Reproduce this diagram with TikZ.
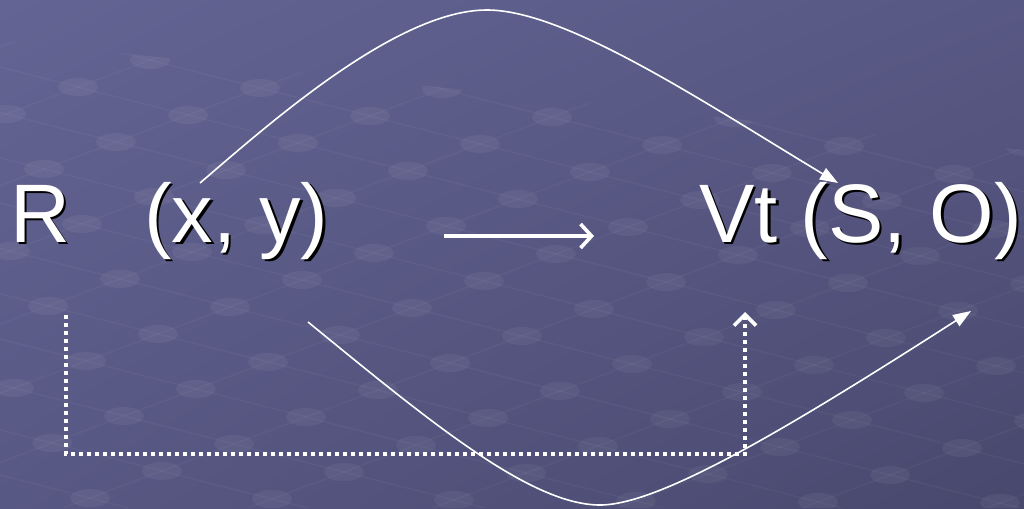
\documentclass[tikz,border=0pt]{standalone}
\usepackage{fontspec}
\setmainfont{Liberation Sans}
\usetikzlibrary{arrows.meta,shadings}
\definecolor{bgA}{RGB}{100,100,148}
\definecolor{bgM}{RGB}{88,88,132}
\definecolor{bgB}{RGB}{72,72,110}
\newcommand\shtext[1]{\makebox[0pt][l]{\hspace{2.6pt}\raisebox{-2.6pt}{\color{black}#1}}#1}
\tikzset{
  lbl/.style={font=\fontsize{83}{98}\selectfont, text=white, inner sep=0pt, anchor=base west},
  curve/.style={draw=white, line width=1.6pt, -{Triangle[length=18pt,width=13pt]}},
  dotline/.style={draw=white, line width=3.6pt, dash pattern=on 3.6pt off 4.4pt, -{Straight Barb[length=11pt,width=22pt,line width=3.6pt]}},
  mainarrow/.style={draw=white, line width=3.8pt, -{Straight Barb[length=11pt,width=24pt,line width=3.6pt]}},
  gridline/.style={draw=white, draw opacity=0.035, line width=1.5pt},
  griddot/.style={fill=white, fill opacity=0.05}
}
\begin{document}
\begin{tikzpicture}[x=1pt,y=-1pt]
\useasboundingbox (0,0) rectangle (1024,508);
\shade[upper left=bgA, upper right=bgM, lower left=bgM, lower right=bgB] (0,0) rectangle (1024,508);
% faint background texture
\begin{scope}
\clip (0,40) -- (1024,150) -- (1024,508) -- (0,508) -- cycle;
\foreach \j in {-9,...,7}{
  \draw[gridline] ({450-8*110-\j*72},{363-8*28+\j*27}) -- ({450+6*110-\j*72},{363+6*28+\j*27});
}
\foreach \i in {-8,...,6}{
  \draw[gridline] ({450+\i*110+9*72},{363+\i*28-9*27}) -- ({450+\i*110-7*72},{363+\i*28+7*27});
}
\foreach \i in {-8,...,6}{
  \foreach \j in {-9,...,7}{
    \fill[griddot] ({450+\i*110-\j*72},{363+\i*28+\j*27}) ellipse (20pt and 9pt);
  }
}
\end{scope}
% texts
\node[lbl] (R) at (10,242) {\shtext{R}};
\node[lbl] (XY) at (144,242) {\shtext{(x, y)}};
\node[lbl] (VT) at (699,242) {\shtext{Vt (S, O)}};
% coordinates
\coordinate (a1) at (200,183);
\coordinate (a2) at (838,183);
\coordinate (b1) at (308,322);
\coordinate (b2) at (971,311);
\coordinate (m1) at (444,236);
\coordinate (m2) at (594,236);
\coordinate (d1) at (66,315);
\coordinate (d2) at (66,454);
\coordinate (d3) at (745,454);
\coordinate (d4) at (745,312);
% upper curve
\draw[curve] (a1) .. controls (270,123) and (397,10) .. (487,10) .. controls (567,10) and (708,105) .. (a2);
% lower curve
\draw[curve] (b1) .. controls (428,420) and (530,505) .. (600,505) .. controls (660,505) and (790,427) .. (b2);
% main arrow
\draw[mainarrow] (m1) -- (m2);
% dotted path
\draw[dotline] (d1) -- (d2) -- (d3) -- (d4);
\end{tikzpicture}
\end{document}
